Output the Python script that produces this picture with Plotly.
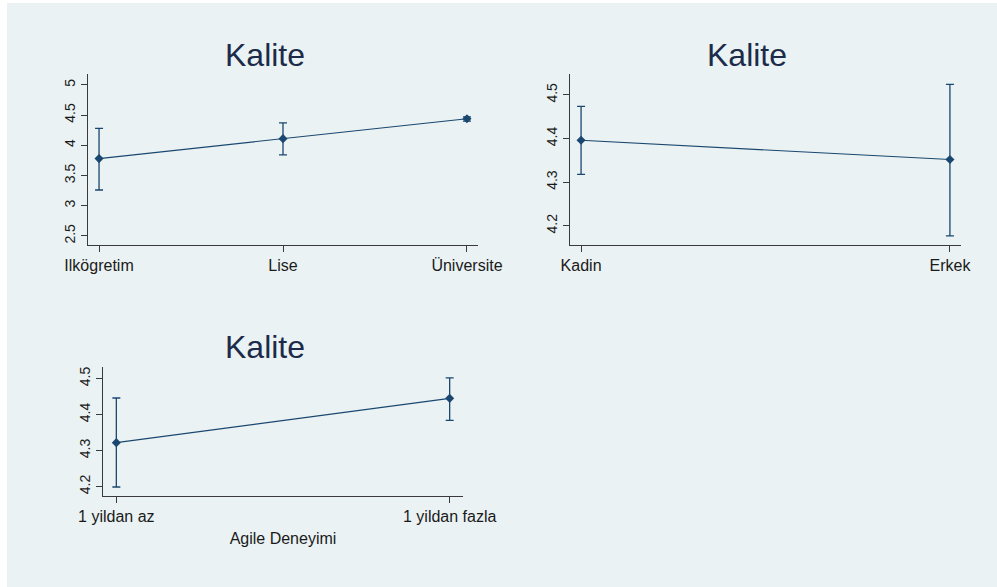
import plotly.graph_objects as go

# ---- data ----
egitim_cats = ["Ilkögretim", "Lise", "Üniversite"]
egitim_mean = [3.78, 4.11, 4.44]
egitim_upper = [4.28, 4.37, 4.47]
egitim_lower = [3.26, 3.84, 4.40]

cinsiyet_cats = ["Kadin", "Erkek"]
cinsiyet_mean = [4.396, 4.352]
cinsiyet_upper = [4.474, 4.524]
cinsiyet_lower = [4.318, 4.177]

agile_cats = ["1 yildan az", "1 yildan fazla"]
agile_mean = [4.322, 4.445]
agile_upper = [4.446, 4.502]
agile_lower = [4.199, 4.384]

panel_title = "Kalite"
agile_xtitle = "Agile Deneyimi"

W, H = 997, 587
BG = "#EAF2F3"
NAVY = "#1A476F"
FONT = "Liberation Sans, Arial, sans-serif"
TXT = "#1a1a1a"

fig = go.Figure()

def add_panel(i, cats, mean, upper, lower):
    xs = list(range(len(cats)))
    fig.add_trace(go.Scatter(
        x=xs, y=mean, mode="lines+markers",
        line=dict(color=NAVY, width=1.1),
        marker=dict(symbol="diamond", size=7, color=NAVY),
        error_y=dict(type="data", symmetric=False,
                     array=[u - m for u, m in zip(upper, mean)],
                     arrayminus=[m - l for m, l in zip(mean, lower)],
                     color=NAVY, thickness=1.3, width=4),
        xaxis="x" if i == 1 else f"x{i}",
        yaxis="y" if i == 1 else f"y{i}",
        showlegend=False, hoverinfo="skip"))

add_panel(1, egitim_cats, egitim_mean, egitim_upper, egitim_lower)
add_panel(2, cinsiyet_cats, cinsiyet_mean, cinsiyet_upper, cinsiyet_lower)
add_panel(3, agile_cats, agile_mean, agile_upper, agile_lower)

def px_x(p):
    return p / W

def px_y(p):
    return 1 - p / H

def xaxis(dom, cats, rng, anchor, title=None):
    d = dict(domain=dom, range=rng, anchor=anchor, automargin=False,
             tickmode="array", tickvals=list(range(len(cats))), ticktext=cats,
             showgrid=False, zeroline=False, showline=True, linecolor="#3a3a3a",
             linewidth=1, ticks="outside", ticklen=6, tickcolor="#3a3a3a",
             tickfont=dict(family=FONT, size=16, color=TXT))
    if title:
        d["title"] = dict(text=title, font=dict(family=FONT, size=16, color=TXT), standoff=8)
    return d

def yaxis(dom, rng, tickvals, ticktext, anchor):
    return dict(domain=dom, range=rng, anchor=anchor, automargin=False,
                tickmode="array", tickvals=tickvals, ticktext=ticktext,
                tickangle=-90,
                showgrid=True, gridcolor=BG, gridwidth=1.2,
                zeroline=False, showline=True, linecolor="#3a3a3a", linewidth=1,
                ticks="outside", ticklen=6, tickcolor="#3a3a3a",
                tickfont=dict(family=FONT, size=14, color=TXT))

y1_ticks = [2.5, 3, 3.5, 4, 4.5, 5]
y1_text = ["2.5", "3", "3.5", "4", "4.5", "5"]
y2_ticks = [4.2, 4.3, 4.4, 4.5]
y2_text = ["4.2", "4.3", "4.4", "4.5"]

top_dom = [px_y(245), px_y(74)]
bot_dom = [px_y(496), px_y(367)]

fig.update_layout(
    width=W, height=H,
    margin=dict(l=0, r=0, t=0, b=0, autoexpand=False),
    paper_bgcolor="white",
    plot_bgcolor="white",
    xaxis=xaxis([px_x(88), px_x(478)], egitim_cats, [-0.06, 2.06], "y"),
    yaxis=yaxis(top_dom, [2.35, 5.18], y1_ticks, y1_text, "x"),
    xaxis2=xaxis([px_x(570), px_x(961)], cinsiyet_cats, [-0.03, 1.03], "y2"),
    yaxis2=yaxis(top_dom, [4.156, 4.548], y2_ticks, y2_text, "x2"),
    xaxis3=xaxis([px_x(103), px_x(463)], agile_cats, [-0.04, 1.04], "y3", agile_xtitle),
    yaxis3=yaxis(bot_dom, [4.174, 4.532], y2_ticks, y2_text, "x3"),
    shapes=[dict(type="rect", xref="paper", yref="paper", layer="below",
                 x0=px_x(7), x1=1, y0=0, y1=px_y(3),
                 fillcolor=BG, line=dict(width=0))],
)

for cx, cy in [(265, 55), (747, 55), (265, 347)]:
    fig.add_annotation(text=panel_title, xref="paper", yref="paper",
                       x=px_x(cx), y=px_y(cy), xanchor="center", yanchor="middle",
                       showarrow=False,
                       font=dict(family=FONT, size=32, color="#1C2B4A"))

fig.write_html("out.html")
